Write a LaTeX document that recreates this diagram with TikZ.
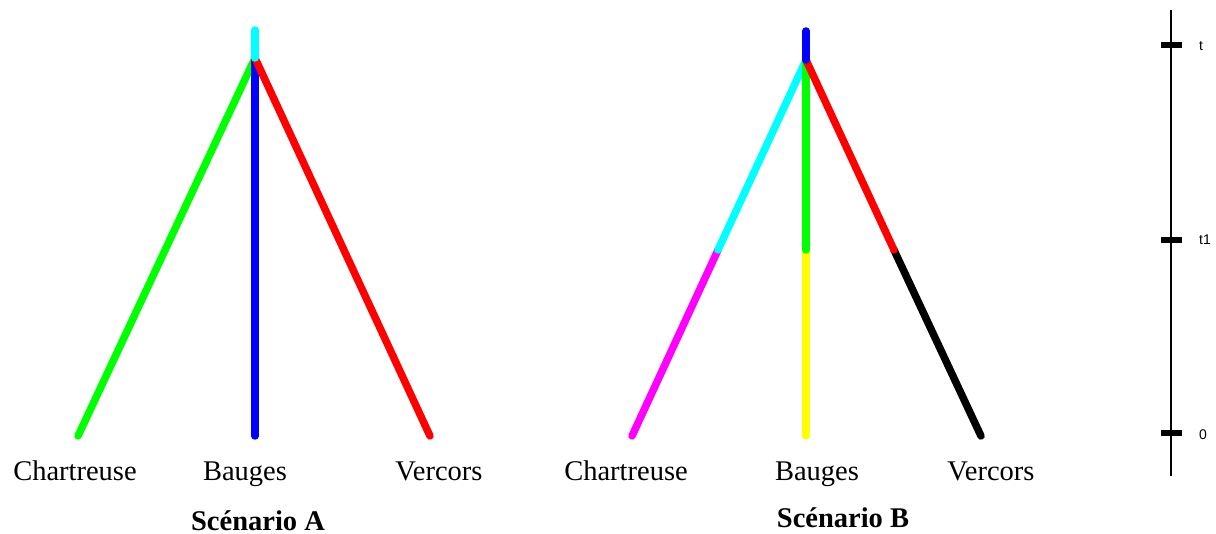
\documentclass[tikz,border=0pt]{standalone}
\usepackage{fontspec}
\setmainfont{Liberation Serif}
\newfontfamily\axisfont{Liberation Sans}
\definecolor{cCyan}{RGB}{0,255,255}
\definecolor{cMagenta}{RGB}{255,0,255}
\definecolor{cYellow}{RGB}{255,255,0}
\definecolor{cGreen}{RGB}{0,255,0}
\definecolor{cBlue}{RGB}{0,0,255}
\definecolor{cRed}{RGB}{255,0,0}
\begin{document}
\begin{tikzpicture}[x=1pt,y=-1pt,
  branch/.style={line width=7.5pt,line cap=round},
  place/.style={font=\fontsize{28.5}{30}\selectfont,anchor=base,inner sep=0pt},
  title/.style={font=\fontsize{28.5}{30}\selectfont\bfseries,anchor=base,inner sep=0pt},
  tick/.style={line width=6pt},
  ticklabel/.style={font=\axisfont\fontsize{14}{15}\selectfont,anchor=base west,inner sep=0pt}]
\useasboundingbox (0,0) rectangle (1216,534);
% Scenario A
\coordinate (Atop) at (255,30);
\coordinate (Aapex) at (255,58);
\coordinate (Ach) at (78,436);
\coordinate (Aba) at (255,436);
\coordinate (Ave) at (430,436);
\draw[branch,cGreen] (Aapex) -- (Ach);
\draw[branch,cBlue] (Aapex) -- (Aba);
\draw[branch,cRed] (Aapex) -- (Ave);
\draw[branch,cCyan] (Atop) -- (Aapex);
\node[place] (lAch) at (75,480) {Chartreuse};
\node[place] (lAba) at (245,480) {Bauges};
\node[place] (lAve) at (439,480) {Vercors};
\node[title] (tA) at (258,530) {Scénario A};
% Scenario B
\coordinate (Btop) at (806,31);
\coordinate (Bapex) at (806,60);
\coordinate (Bc1) at (718,250);
\coordinate (Bb1) at (806,250);
\coordinate (Bv1) at (894,250);
\coordinate (Bch) at (632,436);
\coordinate (Bba) at (806,436);
\coordinate (Bve) at (981,436);
\draw[branch,cMagenta] (Bc1) -- (Bch);
\draw[branch,cCyan] (Bapex) -- (Bc1);
\draw[branch,cYellow] (Bb1) -- (Bba);
\draw[branch,cGreen] (Bapex) -- (Bb1);
\draw[branch,black] (Bv1) -- (Bve);
\draw[branch,cRed] (Bapex) -- (Bv1);
\draw[branch,cBlue] (Btop) -- (Bapex);
\node[place] (lBch) at (626,480) {Chartreuse};
\node[place] (lBba) at (817,480) {Bauges};
\node[place] (lBve) at (991,480) {Vercors};
\node[title] (tB) at (843,527) {Scénario B};
% time axis
\coordinate (axtop) at (1171,10);
\coordinate (axbot) at (1171,476);
\draw[line width=1.5pt] (axtop) -- (axbot);
\coordinate (t0l) at (1161,45); \coordinate (t0r) at (1182,45);
\coordinate (t1l) at (1161,240); \coordinate (t1r) at (1182,240);
\coordinate (t2l) at (1161,433); \coordinate (t2r) at (1182,433);
\draw[tick] (t0l) -- (t0r);
\draw[tick] (t1l) -- (t1r);
\draw[tick] (t2l) -- (t2r);
\node[ticklabel] (lt) at (1199,51) {t};
\node[ticklabel] (lt1) at (1199,245) {t1};
\node[ticklabel] (l0) at (1199,440) {0};
\end{tikzpicture}
\end{document}
